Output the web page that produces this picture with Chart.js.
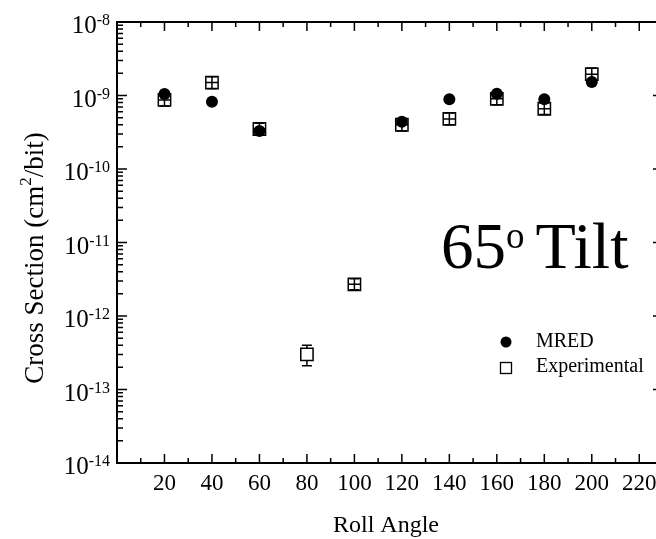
<!DOCTYPE html>
<html>
<head>
<meta charset="utf-8">
<script src="https://cdn.jsdelivr.net/npm/chart.js@4.4.1/dist/chart.umd.min.js"></script>
<style>
  html, body { margin: 0; padding: 0; background: #fff; overflow: hidden; }
  #wrap { width: 656px; height: 539px; overflow: hidden; }
  canvas { display: block; }
</style>
</head>
<body>
<div id="wrap"><canvas id="xsec" width="680" height="539"></canvas></div>
<script>
// Roll angle (deg) vs cross section (cm^2/bit), 65 deg tilt
var rollAngles = [20, 40, 60, 80, 100, 120, 140, 160, 180, 200];
var expValues = [8.7e-10, 1.5e-9, 3.5e-10, 3.0e-13, 2.7e-12, 4.0e-10, 4.8e-10, 9.0e-10, 6.6e-10, 1.95e-9];
var expHigh = [1.05e-9, 1.8e-9, 4.2e-10, 4.0e-13, 3.2e-12, 4.8e-10, 5.8e-10, 1.08e-9, 7.9e-10, 2.35e-9];
var expLow = [7.2e-10, 1.25e-9, 2.9e-10, 2.1e-13, 2.27e-12, 3.3e-10, 4.0e-10, 7.5e-10, 5.5e-10, 1.6e-9];

var mredAngles = [20, 40, 60, 120, 140, 160, 180, 200];
var mredValues = [1.05e-9, 8.2e-10, 3.3e-10, 4.4e-10, 8.9e-10, 1.06e-9, 8.9e-10, 1.53e-9];

var xTickLabels = [20, 40, 60, 80, 100, 120, 140, 160, 180, 200, 220];
var yDecades = [-14, -13, -12, -11, -10, -9, -8];

var serif = '"Liberation Serif", "Times New Roman", serif';

function drawBars(chart, inside) {
  var ctx = chart.ctx, xs = chart.scales.x, ys = chart.scales.y;
  var half = 6.2;
  ctx.save();
  ctx.strokeStyle = '#000';
  ctx.lineWidth = 1.5;
  rollAngles.forEach(function (a, i) {
    var px = xs.getPixelForValue(a);
    var py = ys.getPixelForValue(expValues[i]);
    var hi = ys.getPixelForValue(expHigh[i]);
    var lo = ys.getPixelForValue(expLow[i]);
    var fits = (py - hi <= half + 1) && (lo - py <= half + 1);
    if (fits !== inside) return;
    ctx.beginPath();
    ctx.moveTo(px, hi); ctx.lineTo(px, lo);
    ctx.moveTo(px - 5, hi); ctx.lineTo(px + 5, hi);
    ctx.moveTo(px - 5, lo); ctx.lineTo(px + 5, lo);
    if (inside) { ctx.moveTo(px - half, py); ctx.lineTo(px + half, py); }
    ctx.stroke();
  });
  ctx.restore();
}

var errorBars = {
  id: 'errorBars',
  beforeDatasetDraw: function (chart, args) {
    if (args.index === 1) drawBars(chart, false);
  },
  afterDatasetDraw: function (chart, args) {
    if (args.index === 1) drawBars(chart, true);
  }
};

var decorations = {
  id: 'decorations',
  afterDraw: function (chart) {
    var ctx = chart.ctx, a = chart.chartArea;
    var xs = chart.scales.x, ys = chart.scales.y;
    ctx.save();
    ctx.strokeStyle = '#000';
    ctx.fillStyle = '#000';

    // frame
    ctx.lineWidth = 2;
    ctx.strokeRect(a.left, a.top, a.right - a.left, a.bottom - a.top);

    // x ticks, inward on bottom and top
    ctx.lineWidth = 1.5;
    ctx.beginPath();
    for (var v = 10; v <= 230; v += 10) {
      var px = xs.getPixelForValue(v);
      var len = v % 20 === 0 ? 9 : 5;
      ctx.moveTo(px, a.bottom); ctx.lineTo(px, a.bottom - len);
      ctx.moveTo(px, a.top); ctx.lineTo(px, a.top + len);
    }
    // y ticks, log minors
    yDecades.forEach(function (d) {
      var py = ys.getPixelForValue(Math.pow(10, d));
      ctx.moveTo(a.left, py); ctx.lineTo(a.left + 10, py);
      ctx.moveTo(a.right, py); ctx.lineTo(a.right - 10, py);
      if (d < -8) {
        for (var k = 2; k <= 9; k++) {
          var pm = ys.getPixelForValue(k * Math.pow(10, d));
          ctx.moveTo(a.left, pm); ctx.lineTo(a.left + 6, pm);
          ctx.moveTo(a.right, pm); ctx.lineTo(a.right - 6, pm);
        }
      }
    });
    ctx.stroke();

    // x tick labels
    ctx.font = '23px ' + serif;
    ctx.textAlign = 'center';
    ctx.textBaseline = 'alphabetic';
    xTickLabels.forEach(function (t) {
      ctx.fillText(String(t), xs.getPixelForValue(t), 490);
    });

    // y tick labels 10^d
    ctx.textAlign = 'right';
    yDecades.forEach(function (d) {
      var py = ys.getPixelForValue(Math.pow(10, d));
      ctx.font = '16px ' + serif;
      var sup = String(d);
      var sw = ctx.measureText(sup).width;
      ctx.fillText(sup, 110, py + 3);
      ctx.font = '25px ' + serif;
      ctx.fillText('10', 110 - sw, py + 11);
    });

    // axis titles
    ctx.textAlign = 'center';
    ctx.font = '24px ' + serif;
    ctx.fillText('Roll Angle', 386, 532);

    ctx.save();
    ctx.translate(43, 258);
    ctx.rotate(-Math.PI / 2);
    ctx.textAlign = 'left';
    var p1 = 'Cross Section (cm', p2 = '2', p3 = '/bit)';
    ctx.font = '27px ' + serif;
    var w1 = ctx.measureText(p1).width, w3 = ctx.measureText(p3).width;
    ctx.font = '17px ' + serif;
    var w2 = ctx.measureText(p2).width;
    var x0 = -(w1 + w2 + w3) / 2;
    ctx.font = '27px ' + serif;
    ctx.fillText(p1, x0, 0);
    ctx.font = '17px ' + serif;
    ctx.fillText(p2, x0 + w1, -12);
    ctx.font = '27px ' + serif;
    ctx.fillText(p3, x0 + w1 + w2, 0);
    ctx.restore();

    // annotation
    ctx.textAlign = 'left';
    var x = 441;
    ctx.font = '65px ' + serif;
    ctx.fillText('65', x, 268);
    x += ctx.measureText('65').width;
    ctx.font = '37px ' + serif;
    ctx.fillText('o', x, 248);
    x += ctx.measureText('o').width + 11;
    ctx.font = '66px ' + serif;
    ctx.fillText('Tilt', x, 268);

    // legend
    ctx.beginPath();
    ctx.arc(506, 342, 5.5, 0, Math.PI * 2);
    ctx.fill();
    ctx.lineWidth = 1.3;
    ctx.strokeRect(500.5, 362.5, 11, 11);
    ctx.font = '20px ' + serif;
    ctx.fillText('MRED', 536, 347);
    ctx.fillText('Experimental', 536, 372);

    ctx.restore();
  }
};

var ctx = document.getElementById('xsec').getContext('2d');
var tiltChart = new Chart(ctx, {
  type: 'scatter',
  data: {
    datasets: [
      {
        label: 'MRED',
        data: mredAngles.map(function (x, i) { return { x: x, y: mredValues[i] }; }),
        pointStyle: 'circle',
        pointRadius: 6,
        backgroundColor: '#000',
        borderColor: '#000',
        borderWidth: 0
      },
      {
        label: 'Experimental',
        data: rollAngles.map(function (x, i) { return { x: x, y: expValues[i] }; }),
        pointStyle: 'rect',
        pointRadius: 8.7,
        backgroundColor: '#fff',
        borderColor: '#000',
        borderWidth: 1.5
      }
    ]
  },
  options: {
    responsive: false,
    animation: false,
    events: [],
    layout: { padding: { left: 117, right: 17, top: 22, bottom: 76 } },
    plugins: {
      legend: { display: false },
      tooltip: { enabled: false }
    },
    scales: {
      x: { type: 'linear', min: 0, max: 230, display: false },
      y: { type: 'logarithmic', min: 1e-14, max: 1e-8, display: false }
    }
  },
  plugins: [errorBars, decorations]
});
</script>
</body>
</html>
